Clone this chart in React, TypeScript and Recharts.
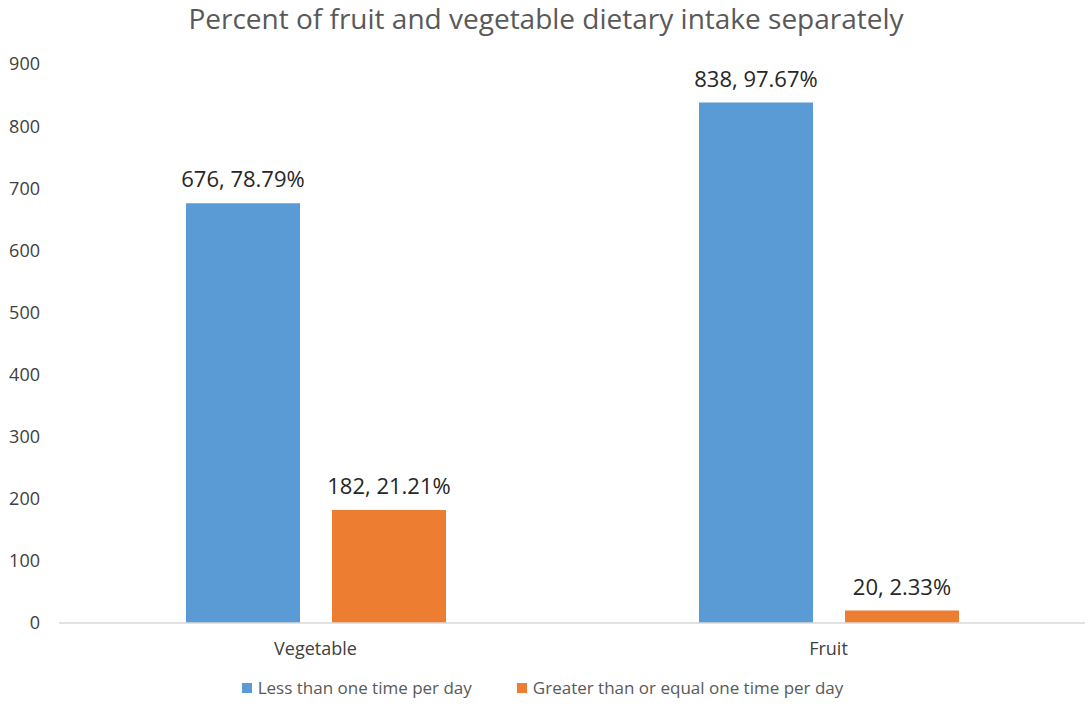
import React from 'react';
import {
  BarChart,
  Bar,
  XAxis,
  YAxis,
  LabelList,
  Legend
} from 'recharts';

// data
const categories = ['Vegetable', 'Fruit'];
const lessCounts = [676, 838];
const lessPercents = ['78.79', '97.67'];
const moreCounts = [182, 20];
const morePercents = ['21.21', '2.33'];
const yTicks = [0, 100, 200, 300, 400, 500, 600, 700, 800, 900];
const seriesNames = ['Less than one time per day', 'Greater than or equal one time per day'];

const rows = categories.map((name, i) => ({
  name,
  less: lessCounts[i],
  lessLabel: `${lessCounts[i]}, ${lessPercents[i]}%`,
  more: moreCounts[i],
  moreLabel: `${moreCounts[i]}, ${morePercents[i]}%`
}));

const FONT = '"Open Sans", "Noto Sans", sans-serif';
const BLUE = '#5B9BD5';
const ORANGE = '#ED7D31';

function LegendContent() {
  const items = [
    { label: seriesNames[0], color: BLUE },
    { label: seriesNames[1], color: ORANGE }
  ];
  return (
    <div style={{ display: 'flex', justifyContent: 'center', gap: 45, fontFamily: FONT, fontSize: 17, lineHeight: '25px', color: '#595959' }}>
      {items.map((it) => (
        <div key={it.label} style={{ display: 'flex', alignItems: 'center' }}>
          <span style={{ display: 'inline-block', width: 10, height: 10, background: it.color, marginRight: 6 }} />
          <span>{it.label}</span>
        </div>
      ))}
    </div>
  );
}

export default function App() {
  return (
    <div style={{ position: 'absolute', left: 0, top: 0, width: 1092, height: 716, background: '#fff' }}>
      <div
        style={{
          position: 'absolute',
          top: -1,
          left: 0,
          width: 1092,
          textAlign: 'center',
          fontFamily: FONT,
          fontSize: 28,
          color: '#595959'
        }}
      >
        Percent of fruit and vegetable dietary intake separately
      </div>
      <BarChart
        width={1092}
        height={716}
        data={rows}
        margin={{ top: 64, right: 7, bottom: 24, left: 0 }}
        barCategoryGap="24.7%"
        barGap={32}
      >
        <XAxis
          dataKey="name"
          axisLine={{ stroke: '#D9D9D9', strokeWidth: 1.5 }}
          tickLine={false}
          tickMargin={13}
          height={44}
          tick={{ fill: '#404040', fontSize: 18, fontFamily: FONT }}
        />
        <YAxis
          width={59}
          domain={[0, 900]}
          ticks={yTicks}
          axisLine={false}
          tickLine={false}
          tickMargin={13}
          tick={{ fill: '#404040', fontSize: 18, fontFamily: FONT }}
        />
        <Legend verticalAlign="bottom" wrapperStyle={{ bottom: 16 }} content={<LegendContent />} />
        <Bar dataKey="less" name={seriesNames[0]} fill={BLUE} barSize={114} isAnimationActive={false}>
          <LabelList dataKey="lessLabel" position="top" offset={16} fill="#262626" fontSize={22} fontFamily={FONT} />
        </Bar>
        <Bar dataKey="more" name={seriesNames[1]} fill={ORANGE} barSize={114} isAnimationActive={false}>
          <LabelList dataKey="moreLabel" position="top" offset={16} fill="#262626" fontSize={22} fontFamily={FONT} />
        </Bar>
      </BarChart>
    </div>
  );
}
